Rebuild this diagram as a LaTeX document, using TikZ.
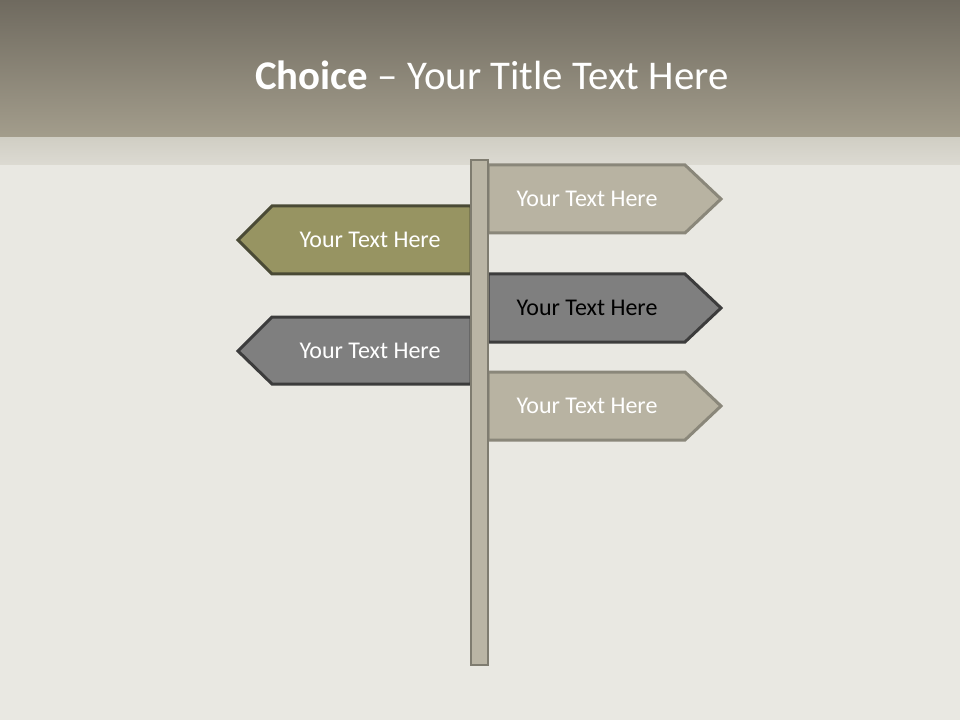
\documentclass[tikz,border=0pt]{standalone}
\usepackage{fontspec}
\setmainfont{Carlito}
\usepackage{xcolor}
\usepackage{tikz}
\usetikzlibrary{calc}

\definecolor{headtop}{HTML}{6F6A5F}
\definecolor{headbot}{HTML}{A39D8C}
\definecolor{paper}{HTML}{E9E8E2}
\definecolor{bandtop}{HTML}{D0CEC4}
\definecolor{bandbot}{HTML}{DCDAD2}
\definecolor{stone}{HTML}{B8B3A2}
\definecolor{stoneline}{HTML}{8A877A}
\definecolor{olive}{HTML}{979462}
\definecolor{oliveline}{HTML}{4A4A35}
\definecolor{slate}{HTML}{7F7F7F}
\definecolor{slateline}{HTML}{3C3C3C}
\definecolor{pole}{HTML}{BAB5A5}
\definecolor{poleline}{HTML}{7F7C70}

\begin{document}
\begin{tikzpicture}[x=0.75pt,y=-0.75pt,
    sign/.style={line width=2.25pt, line join=miter},
    signtext/.style={font=\fontsize{18}{21}\selectfont, text=white, anchor=center, inner sep=0pt}]
    % page and header
    \useasboundingbox (0,0) rectangle (960,720);
    \fill[paper] (0,0) rectangle (960,720);
    \shade[top color=bandtop, bottom color=bandbot] (0,137) rectangle (960,165);
    \shade[top color=headtop, bottom color=headbot] (0,0) rectangle (960,137);
    \node[text=white, font=\fontsize{30.6}{36}\selectfont, inner sep=0pt] (title) at (492,75) {\textbf{Choice} -- Your Title Text Here};
    % signs on the right
    \draw[sign, fill=stone, draw=stoneline] (488,165) -- (685,165) -- (721,199) -- (685,233) -- (488,233) -- cycle;
    \node[signtext] (r1) at (587,199) {Your Text Here};
    \draw[sign, fill=slate, draw=slateline] (488,274) -- (685,274) -- (721,308) -- (685,342) -- (488,342) -- cycle;
    \node[signtext, text=black] (r2) at (587,308) {Your Text Here};
    \draw[sign, fill=stone, draw=stoneline] (488,372) -- (685,372) -- (721,406) -- (685,440) -- (488,440) -- cycle;
    \node[signtext] (r3) at (587,406) {Your Text Here};
    % signs on the left
    \draw[sign, fill=olive, draw=oliveline] (471,206) -- (272,206) -- (238,240) -- (272,274) -- (471,274) -- cycle;
    \node[signtext] (l1) at (370,240) {Your Text Here};
    \draw[sign, fill=slate, draw=slateline] (471,317) -- (272,317) -- (238,351) -- (272,384) -- (471,384) -- cycle;
    \node[signtext] (l2) at (370,351) {Your Text Here};
    % the post
    \draw[fill=pole, draw=poleline, line width=1.5pt] (471,160) rectangle (488,665);
\end{tikzpicture}
\end{document}
